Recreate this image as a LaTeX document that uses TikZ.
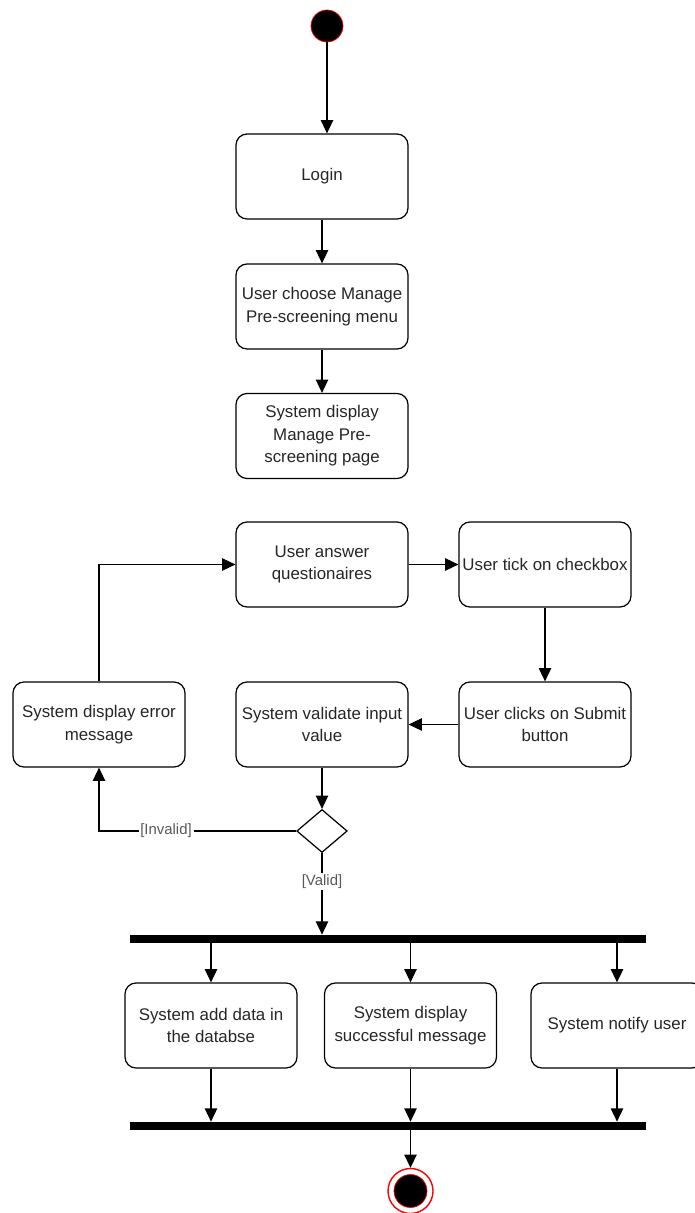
\documentclass[tikz,border=0pt]{standalone}
\usepackage{fontspec}
\setmainfont{Liberation Sans}
\usetikzlibrary{arrows.meta,shapes.geometric}

\begin{document}
\begin{tikzpicture}[
    >={Triangle[length=7.5pt,width=7pt]},
    action/.style={
        rectangle,
        draw,
        rounded corners=0.22cm,
        line width=.7pt,
        minimum width=3.44cm,
        minimum height=1.7cm,
        align=center,
        inner sep=1pt,
        text=black!85,
        font=\fontsize{9.6pt}{12.8pt}\selectfont
        },
    decision/.style={
        diamond,
        draw,
        line width=.7pt,
        minimum width=1.01cm,
        minimum height=0.86cm,
        inner sep=0pt
        },
    bar/.style={
        rectangle,
        fill=black,
        minimum width=10.32cm,
        minimum height=0.16cm,
        inner sep=0pt
        },
    startnode/.style={
        circle,
        fill=black,
        draw=red,
        minimum size=0.64cm,
        inner sep=0pt
        },
    endring/.style={
        circle,
        draw=red,
        line width=.8pt,
        minimum size=0.9cm,
        inner sep=0pt
        },
    enddot/.style={
        circle,
        fill=black,
        draw=red,
        minimum size=0.66cm,
        inner sep=0pt
        },
    guard/.style={
        fill=white,
        inner sep=1pt,
        text=black!65,
        font=\fontsize{8.5pt}{10pt}\selectfont
        },
    ArrowA/.style={
        line width=.7pt,
        },
    ]

    \useasboundingbox (0,0) rectangle (13.88,-24.26);

    \node [startnode] (start) at (6.54,-0.52) {};

    \node [action] (login) at (6.44,-3.53) {Login};
    \node [action] (choose) at (6.44,-6.13) {User choose Manage\\Pre-screening menu};
    \node [action] (page) at (6.44,-8.72) {System display\\Manage Pre-\\screening page};

    \node [action] (answer) at (6.44,-11.29) {User answer\\questionaires};
    \node [action] (tick) at (10.9,-11.29) {User tick on checkbox};
    \node [action] (submit) at (10.9,-14.49) {User clicks on Submit\\button};
    \node [action] (validate) at (6.44,-14.49) {System validate input\\value};
    \node [action] (error) at (1.98,-14.49) {System display error\\message};

    \node [decision] (dec) at (6.44,-16.62) {};

    \node [bar] (fork) at (7.75,-18.78) {};
    \node [action] (store) at (4.22,-20.51) {System add data in\\the databse};
    \node [action] (success) at (8.21,-20.51) {System display\\successful message};
    \node [action] (notify) at (12.34,-20.51) {System notify user};
    \node [bar] (join) at (7.75,-22.52) {};

    \node [endring] (stop) at (8.21,-23.82) {};
    \node [enddot] (stopdot) at (stop) {};

    \draw [->, ArrowA] (start) -- (start |- login.north);
    \draw [->, ArrowA] (login) -- (choose);
    \draw [->, ArrowA] (choose) -- (page);

    \draw [->, ArrowA] (answer) -- (tick);
    \draw [->, ArrowA] (tick) -- (submit);
    \draw [->, ArrowA] (submit) -- (validate);
    \draw [->, ArrowA] (validate) -- (dec);
    \draw [->, ArrowA] (dec) -| node [guard, pos=0.33] {[Invalid]} (error);
    \draw [->, ArrowA] (error) |- (answer);
    \draw [->, ArrowA] (dec) -- node [guard, pos=0.35] {[Valid]} (dec |- fork.north);

    \draw [->, ArrowA] (store |- fork.south) -- (store);
    \draw [->, ArrowA] (success |- fork.south) -- (success);
    \draw [->, ArrowA] (notify |- fork.south) -- (notify);

    \draw [->, ArrowA] (store) -- (store |- join.north);
    \draw [->, ArrowA] (success) -- (success |- join.north);
    \draw [->, ArrowA] (notify) -- (notify |- join.north);

    \draw [->, ArrowA] (join.south -| stop) -- (stop);

\end{tikzpicture}
\end{document}
